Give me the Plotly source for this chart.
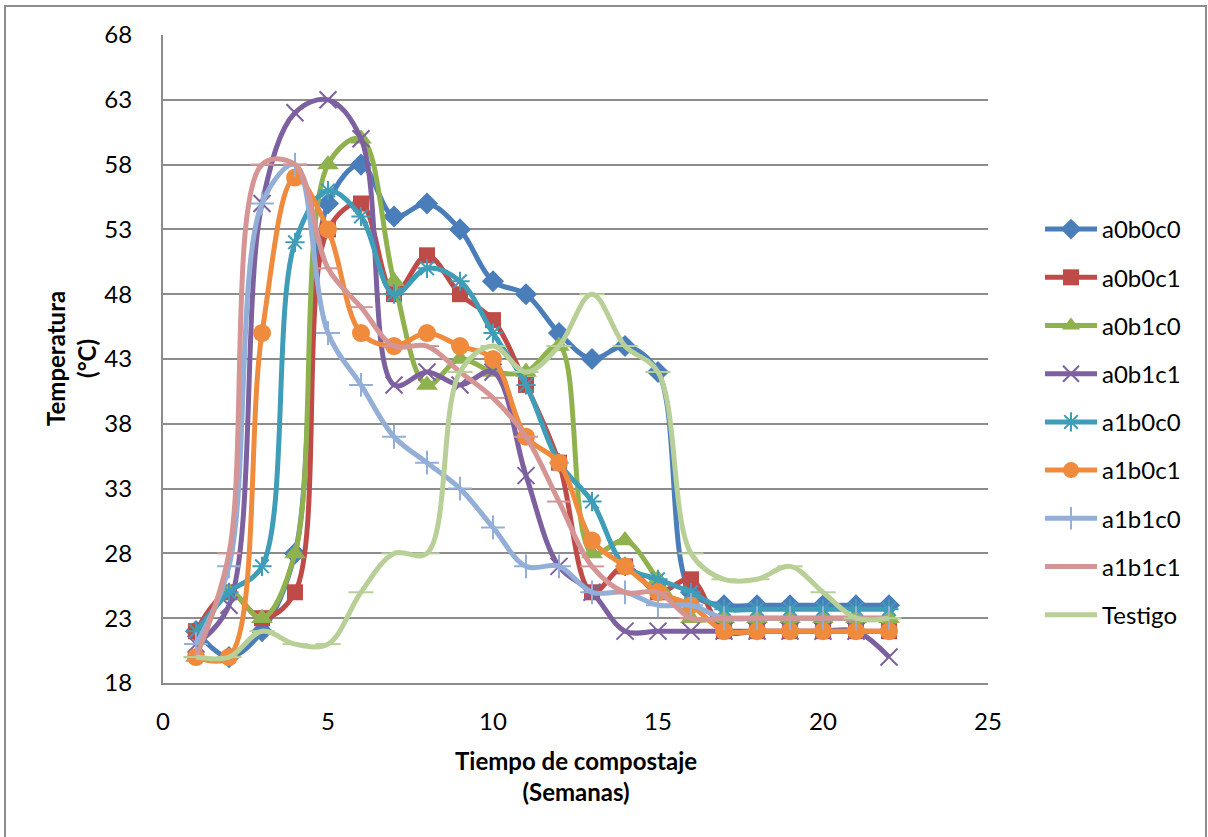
import plotly.graph_objects as go

weeks = list(range(1, 23))
a0b0c0 = [22, 20, 22, 28, 55, 58, 54, 55, 53, 49, 48, 45, 43, 44, 42, 25, 24, 24, 24, 24, 24, 24]
a0b0c1 = [22, 25, 23, 25, 53, 55, 48, 51, 48, 46, 41, 35, 25, 27, 25, 26, 22, 22, 22, 22, 22, 22]
a0b1c0 = [20, 25, 23, 28, 58, 60, 49, 41, 43, 42, 42, 44, 28, 29, 26, 23, 23, 23, 23, 23, 23, 23]
a0b1c1 = [21, 24, 55, 62, 63, 60, 41, 42, 41, 42, 34, 27, 25, 22, 22, 22, 22, 22, 22, 22, 22, 20]
a1b0c0 = [22, 25, 27, 52, 56, 54, 48, 50, 49, 45, 41, 35, 32, 27, 26, 25, 23.7, 23.7, 23.7, 23.7, 23.7, 23.7]
a1b0c1 = [20, 20, 45, 57, 53, 45, 44, 45, 44, 43, 37, 35, 29, 27, 25, 24, 22, 22, 22, 22, 22, 22]
a1b1c0 = [21, 27, 55, 58, 45, 41, 37, 35, 33, 30, 27, 27, 25, 25, 24, 24, 23, 23, 23, 23, 23, 23]
a1b1c1 = [20, 28, 58, 58, 50, 47, 44, 44, 42, 40, 37, 32, 27, 25, 25, 23, 23, 23, 23, 23, 23, 23]
testigo = [20, 20, 22, 21, 21, 25, 28, 28, 42, 44, 42, 44, 48, 44, 42, 28, 26, 26, 27, 25, 23, 23]

series_names = ["a0b0c0", "a0b0c1", "a0b1c0", "a0b1c1", "a1b0c0", "a1b0c1", "a1b1c0", "a1b1c1", "Testigo"]
series_values = [a0b0c0, a0b0c1, a0b1c0, a0b1c1, a1b0c0, a1b0c1, a1b1c0, a1b1c1, testigo]

colors = ["#4A7EBB", "#BE4B48", "#8FB24F", "#7D60A0", "#3F9DB7", "#F08A3C", "#93AFD8", "#D59595", "#B8D098"]
symbols = ["diamond", "square", "triangle-up", "x-thin-open", "asterisk-open", "circle",
           "cross-thin-open", "line-ew-open", "line-ew-open"]
sizes = [17, 16, 19, 17, 16, 18, 17, 17, 18]

FONT = "Lato"

fig = go.Figure()
for name, vals, c, s, sz in zip(series_names, series_values, colors, symbols, sizes):
    open_sym = s.endswith("-open")
    fig.add_trace(go.Scatter(
        x=weeks, y=vals, name=name, mode="lines+markers",
        legendgroup=name,
        line=dict(color=c, width=5, shape="spline", smoothing=1.0),
        marker=dict(symbol=s, size=sz, color=c,
                    line=dict(color=c, width=2 if open_sym else 0)),
    ))

# outer chart border
x0p = (5 - 163) / 825
x1p = (1206 - 163) / 825
y1p = (683 - 6) / 648
y0p = (683 - 900) / 648
fig.add_shape(type="rect", xref="paper", yref="paper", x0=x0p, x1=x1p, y0=y0p, y1=y1p,
              line=dict(color="#8C8C8C", width=2), fillcolor="rgba(0,0,0,0)", layer="below")

fig.add_annotation(text="<b>Temperatura<br>(°C)</b>", xref="paper", yref="paper",
                   x=(71 - 163) / 825, y=0.5, textangle=-90, showarrow=False,
                   font=dict(family=FONT, size=24, color="#000"), xanchor="center", yanchor="middle")
fig.add_annotation(text="<b>Tiempo de compostaje<br>(Semanas)</b>", xref="paper", yref="paper",
                   x=0.5, y=(683 - 776) / 648, showarrow=False,
                   font=dict(family=FONT, size=24, color="#000"), xanchor="center", yanchor="middle")

fig.update_layout(
    width=1208, height=837,
    margin=dict(l=163, r=220, t=35, b=154),
    paper_bgcolor="white", plot_bgcolor="white",
    font=dict(family=FONT, size=24, color="#000"),
    showlegend=True,
    legend=dict(x=(1040 - 163) / 825, y=(683 - 422) / 648, xanchor="left", yanchor="middle",
                font=dict(family=FONT, size=24, color="#000"), itemwidth=52,
                tracegroupgap=14, bgcolor="rgba(0,0,0,0)"),
    xaxis=dict(range=[0, 25], tick0=0, dtick=5, showgrid=False, zeroline=False,
               showline=True, linecolor="#8C8C8C", linewidth=2, ticks="",
               ticklabelstandoff=16, tickfont=dict(family=FONT, size=24)),
    yaxis=dict(range=[18, 68], tick0=18, dtick=5, showgrid=True, gridcolor="#8C8C8C", gridwidth=1.5,
               zeroline=False, showline=True, linecolor="#8C8C8C", linewidth=2, ticks="",
               ticklabelstandoff=24, tickfont=dict(family=FONT, size=24)),
)

fig.write_html("out.html")
